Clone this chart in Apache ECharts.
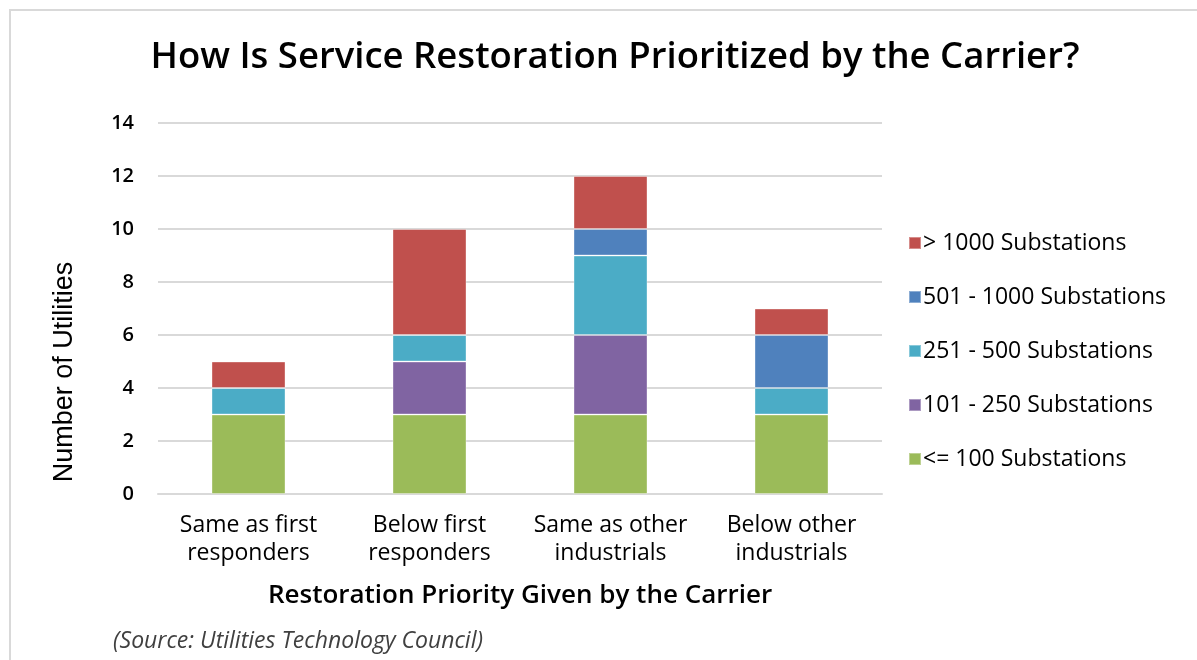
<!DOCTYPE html>
<html>
<head>
<meta charset="utf-8">
<title>How Is Service Restoration Prioritized by the Carrier?</title>
<script src="https://cdn.jsdelivr.net/npm/echarts@6/dist/echarts.min.js"></script>
<style>
  html, body { margin: 0; padding: 0; background: #ffffff; }
  #chart { width: 1197px; height: 660px; }
</style>
</head>
<body>
<div id="chart"></div>
<script>
// Restoration priority categories (x axis)
const categories = [
  'Same as first\nresponders',
  'Below first\nresponders',
  'Same as other\nindustrials',
  'Below other\nindustrials'
];

// Number of utilities per substation-count group
const upTo100 = [3, 3, 3, 3];
const from101To250 = [0, 2, 3, 0];
const from251To500 = [1, 1, 3, 1];
const from501To1000 = [0, 0, 1, 2];
const over1000 = [1, 4, 2, 1];

const yTicks = { min: 0, max: 14, interval: 2 };

const seriesDefs = [
  { name: '<= 100 Substations', data: upTo100, color: '#9BBB59' },
  { name: '101 - 250 Substations', data: from101To250, color: '#8064A2' },
  { name: '251 - 500 Substations', data: from251To500, color: '#4BACC6' },
  { name: '501 - 1000 Substations', data: from501To1000, color: '#4F81BD' },
  { name: '> 1000 Substations', data: over1000, color: '#C0504D' }
];

const baseFont = '"Open Sans", "DejaVu Sans", sans-serif';
const chart = echarts.init(document.getElementById('chart'), null, { renderer: 'canvas' });

chart.setOption({
  backgroundColor: '#ffffff',
  animation: false,
  title: {
    text: 'How Is Service Restoration Prioritized by the Carrier?',
    left: 610,
    textAlign: 'center',
    top: 34,
    textStyle: { fontFamily: baseFont, fontSize: 36.5, fontWeight: 600, color: '#000000' }
  },
  legend: {
    orient: 'vertical',
    left: 903,
    top: 225,
    icon: 'rect',
    itemWidth: 12,
    itemHeight: 12,
    itemGap: 28,
    data: seriesDefs.map(s => s.name).reverse(),
    textStyle: { fontFamily: baseFont, fontSize: 23, fontWeight: 500, color: '#000000', lineHeight: 26, padding: [0, 0, 0, -3] }
  },
  grid: { left: 158, right: 315, top: 123, bottom: 166, containLabel: false },
  xAxis: {
    type: 'category',
    data: categories,
    name: 'Restoration Priority Given by the Carrier',
    nameLocation: 'middle',
    nameGap: 89,
    nameTextStyle: { fontFamily: baseFont, fontSize: 26, fontWeight: 600, color: '#000000' },
    axisLine: { show: true, lineStyle: { color: '#D9D9D9', width: 2 } },
    axisTick: { show: false },
    axisLabel: { fontFamily: baseFont, fontSize: 23, fontWeight: 500, color: '#000000', lineHeight: 28, margin: 17, interval: 0 }
  },
  yAxis: {
    type: 'value',
    min: yTicks.min,
    max: yTicks.max,
    interval: yTicks.interval,
    axisLine: { show: false },
    axisTick: { show: false },
    splitLine: { lineStyle: { color: '#D9D9D9', width: 2 } },
    axisLabel: { fontFamily: baseFont, fontSize: 20, fontWeight: 600, color: '#000000', margin: 24 }
  },
  graphic: [
    {
      type: 'polyline',
      shape: { points: [[10, 660], [10, 10], [1197, 10]] },
      style: { stroke: '#D9D9D9', lineWidth: 2, fill: null },
      silent: true
    },
    {
      type: 'text',
      x: 65,
      y: 372,
      rotation: Math.PI / 2,
      style: {
        text: 'Number of Utilities',
        fontFamily: '"Liberation Sans", Arial, sans-serif',
        fontSize: 27,
        fill: '#000000',
        align: 'center',
        verticalAlign: 'middle'
      }
    },
    {
      type: 'text',
      x: 113,
      y: 641,
      style: {
        text: '(Source: Utilities Technology Council)',
        fontFamily: baseFont,
        fontSize: 23,
        fontStyle: 'italic',
        fill: '#404040',
        align: 'left',
        verticalAlign: 'middle'
      }
    }
  ],
  series: seriesDefs.map(s => ({
    name: s.name,
    type: 'bar',
    stack: 'total',
    barWidth: 74,
    data: s.data,
    itemStyle: { color: s.color, borderColor: 'rgba(255,255,255,0.35)', borderWidth: 1 }
  }))
});
</script>
</body>
</html>
